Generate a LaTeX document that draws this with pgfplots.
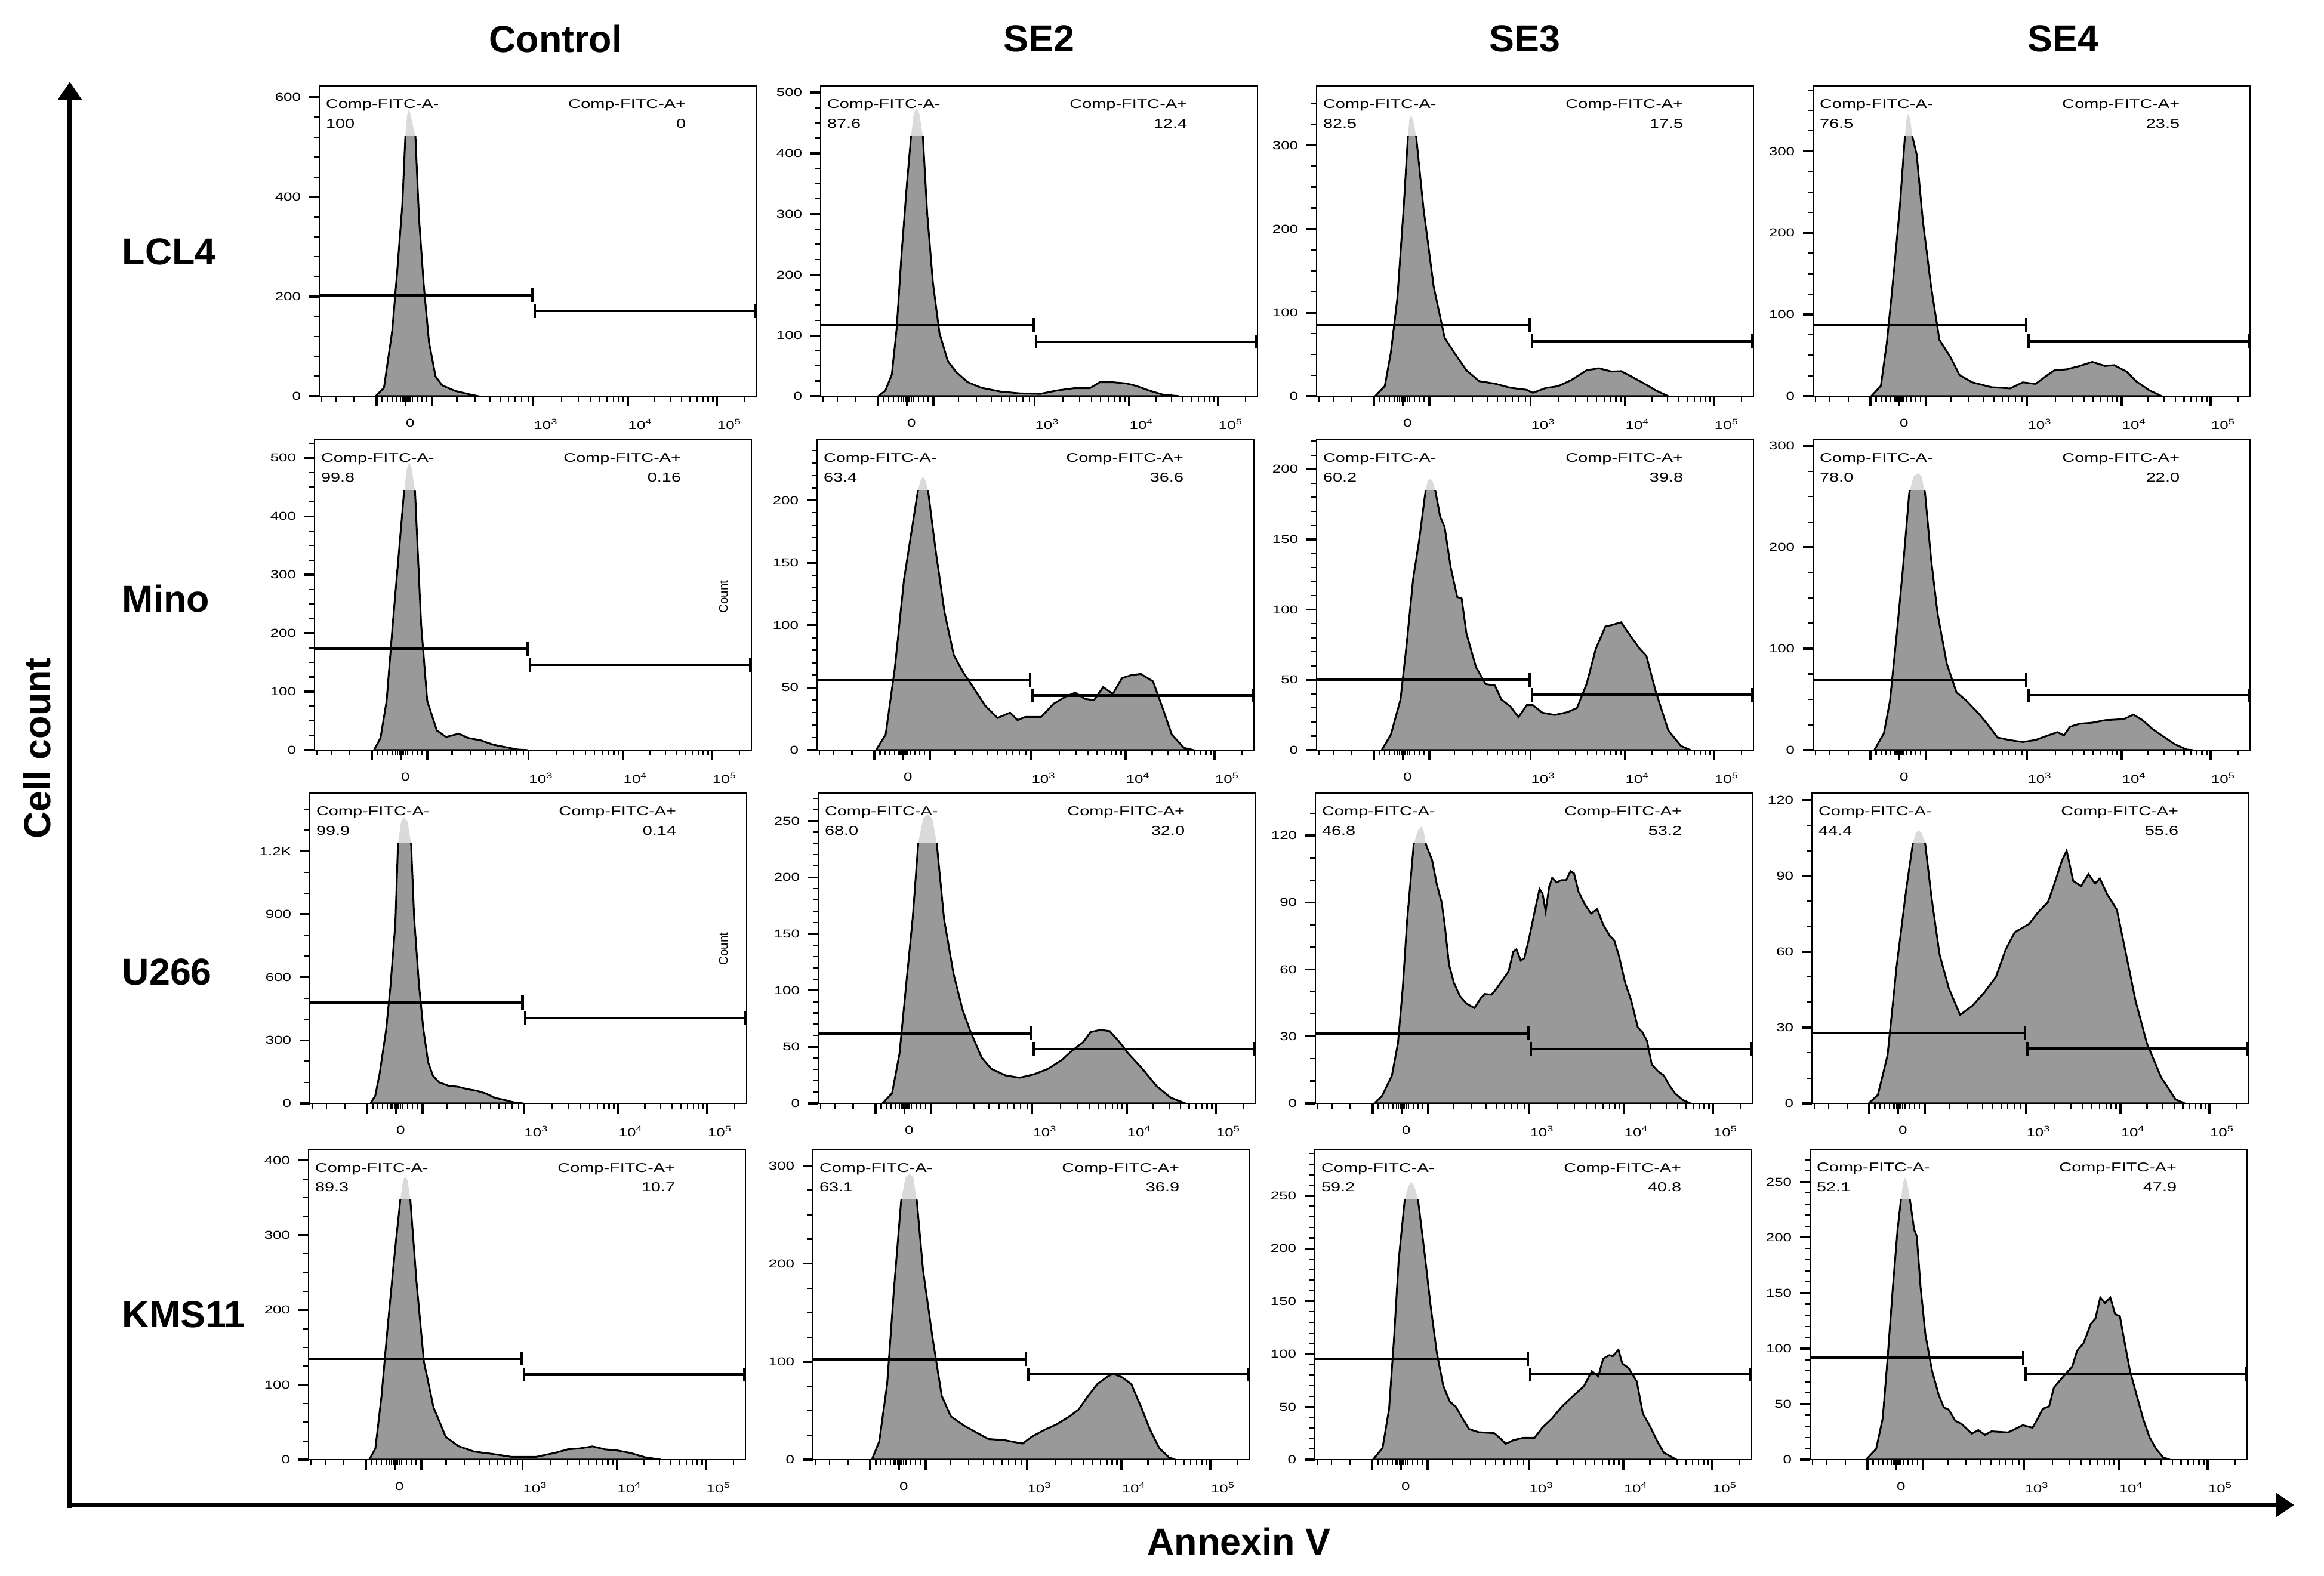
\documentclass[border=0pt]{standalone}
\usepackage{pgfplots}
\pgfplotsset{compat=1.18}
\usepackage{pgfplotstable}
\usepackage{fontspec}
\setmainfont{Liberation Sans}
\newfontfamily\widesans[FakeStretch=1.35]{Liberation Sans}
\usetikzlibrary{arrows.meta}

\definecolor{histgray}{RGB}{153,153,153}
\definecolor{tipgray}{RGB}{218,218,218}

\newcommand{\tickfont}{\widesans\fontsize{4.8pt}{5.2pt}\selectfont}
\newcommand{\gatefont}{\widesans\fontsize{5.35pt}{6pt}\selectfont}
\newcommand{\bigfont}{\bfseries\fontsize{15.7pt}{18pt}\selectfont}

% Histograms: x = position across the biexponential Annexin V scale (percent of axis width), y = count
% Row 1: LCL4
\pgfplotstableread[row sep=\\]{x y\\ 12.9 0\\ 14.8 17\\ 16.7 132\\ 17.8 247\\ 19.0 384\\ 19.7 522\\ 20.1 565\\ 20.5 577\\ 20.9 565\\ 22.0 522\\ 22.8 361\\ 23.9 224\\ 25.1 109\\ 26.6 40\\ 28.1 22\\ 31.1 10.5\\ 34.2 4\\ 36.4 0\\}\tAa
\pgfplotstableread[row sep=\\]{x y\\ 13.2 0\\ 14.8 9\\ 16.3 36\\ 17.4 111\\ 18.5 232\\ 19.7 345\\ 20.7 428\\ 21.3 465\\ 21.9 474\\ 22.6 465\\ 23.4 428\\ 24.4 300\\ 25.7 187\\ 27.2 104\\ 29.1 58\\ 31.0 40\\ 33.7 23\\ 36.7 14\\ 41.2 7.5\\ 45.8 4.5\\ 50.3 3.8\\ 54.1 9.4\\ 57.9 13\\ 61.6 13\\ 63.9 23\\ 66.9 23\\ 70.0 21\\ 72.2 17\\ 75.3 9\\ 78.3 2.6\\ 82.1 0\\}\tAb
\pgfplotstableread[row sep=\\]{x y\\ 13.4 0\\ 15.6 12\\ 17.0 52\\ 18.5 118\\ 19.9 223\\ 20.9 310\\ 21.2 330\\ 21.6 336\\ 22.1 330\\ 22.8 310\\ 24.5 223\\ 26.8 131\\ 29.3 70\\ 31.5 52\\ 34.3 31\\ 37.2 18\\ 40.8 15\\ 44.4 10\\ 48.1 7.6\\ 49.5 4\\ 52.4 9.7\\ 55.3 12\\ 58.2 19\\ 61.8 31\\ 64.6 33.4\\ 67.5 29.5\\ 69.7 30\\ 71.9 24\\ 74.7 16\\ 77.6 7\\ 80.5 0\\}\tAc
\pgfplotstableread[row sep=\\]{x y\\ 13.3 0\\ 15.5 12.7\\ 16.9 67\\ 18.4 148\\ 19.8 229\\ 21.0 318\\ 21.4 340\\ 21.7 346\\ 22.2 340\\ 22.7 318\\ 23.7 296\\ 25.1 215\\ 27.0 134\\ 28.9 69\\ 31.4 48\\ 33.5 26\\ 36.4 17\\ 40.8 11\\ 45.1 9.5\\ 48.0 17\\ 50.9 15\\ 53.0 23.5\\ 55.2 31.6\\ 58.1 33\\ 61.0 37\\ 63.9 42\\ 66.8 37\\ 68.9 38\\ 71.8 30\\ 74.0 18\\ 76.9 7.3\\ 79.8 0\\}\tAd
% Row 2: Mino
\pgfplotstableread[row sep=\\]{x y\\ 13.6 0\\ 15.1 20.6\\ 16.5 84\\ 17.9 215\\ 19.4 346\\ 20.5 443\\ 21.1 480\\ 21.7 492\\ 22.3 480\\ 23.0 443\\ 24.4 215\\ 25.8 84\\ 28.0 33.6\\ 30.1 22.4\\ 33.0 28\\ 35.2 20.6\\ 38.0 16.8\\ 40.9 9.3\\ 43.8 4.9\\ 46.6 1\\ 48.8 0\\}\tBa
\pgfplotstableread[row sep=\\]{x y\\ 13.5 0\\ 15.7 12.4\\ 17.8 65.6\\ 19.9 136.5\\ 21.8 179\\ 23.1 208\\ 23.7 216\\ 24.2 219\\ 24.8 216\\ 25.4 208\\ 27.1 161\\ 29.2 110\\ 31.3 76\\ 33.5 62\\ 35.6 51\\ 38.5 35.5\\ 41.3 25.7\\ 44.2 30\\ 45.9 24\\ 47.7 26.6\\ 51.3 26.6\\ 54.1 37\\ 57.0 43\\ 59.1 46\\ 61.3 41\\ 63.4 40\\ 65.5 50.5\\ 67.7 45\\ 69.8 57.6\\ 71.9 60\\ 74.1 61\\ 76.9 55\\ 79.1 33.7\\ 81.2 12.4\\ 84.0 1.8\\ 86.2 0\\}\tBb
\pgfplotstableread[row sep=\\]{x y\\ 14.9 0\\ 17.0 11\\ 19.2 36\\ 20.6 75\\ 22.1 122\\ 23.5 150\\ 25.0 186\\ 25.5 192\\ 26.0 193\\ 26.5 192\\ 27.1 186\\ 28.3 166\\ 29.3 159\\ 30.7 130\\ 32.2 109\\ 33.2 108\\ 34.3 83\\ 36.5 59\\ 38.7 47\\ 40.8 46\\ 42.3 36\\ 44.4 31\\ 46.2 23.4\\ 48.1 32\\ 49.5 32\\ 51.7 26.6\\ 54.5 25\\ 57.4 27\\ 59.6 30\\ 61.8 47\\ 63.9 72\\ 66.1 88\\ 67.5 89\\ 69.7 91\\ 71.9 81\\ 74.0 72\\ 75.5 67\\ 77.6 42\\ 80.5 14\\ 83.4 3\\ 85.6 0\\}\tBc
\pgfplotstableread[row sep=\\]{x y\\ 14.0 0\\ 16.2 16.7\\ 17.6 49\\ 19.1 113\\ 20.5 177\\ 22.0 254\\ 23.0 270\\ 24.0 273\\ 24.8 270\\ 25.6 254\\ 27.0 188\\ 28.5 134\\ 30.6 85\\ 32.8 57\\ 35.0 49\\ 37.9 36\\ 40.0 25\\ 42.2 12.4\\ 45.1 9.8\\ 48.0 8\\ 50.9 10\\ 53.8 14.5\\ 55.9 17.7\\ 57.4 14.5\\ 58.8 23\\ 61.0 26\\ 63.9 27\\ 66.8 29.5\\ 71.1 30.5\\ 73.3 35\\ 75.4 29.5\\ 77.6 21\\ 79.8 14.5\\ 82.7 6\\ 85.5 0.6\\ 87.0 0\\}\tBd
% Row 3: U266
\pgfplotstableread[row sep=\\]{x y\\ 13.9 0\\ 15.0 37\\ 16.0 142\\ 17.5 353\\ 18.5 563\\ 19.6 858\\ 20.2 1236\\ 20.9 1340\\ 21.6 1363\\ 22.4 1340\\ 23.2 1236\\ 23.9 879\\ 25.0 563\\ 26.0 353\\ 27.1 195\\ 28.2 132\\ 29.6 100\\ 31.7 84\\ 33.9 79\\ 36.0 68\\ 38.2 60\\ 40.3 47\\ 42.4 26\\ 44.6 16\\ 46.7 5\\ 48.9 0\\}\tCa
\pgfplotstableread[row sep=\\]{x y\\ 14.7 0\\ 16.9 9\\ 18.6 44\\ 20.1 104\\ 21.6 163\\ 22.9 231\\ 24.0 252\\ 25.1 256\\ 26.1 252\\ 27.1 231\\ 28.8 163\\ 31.0 114\\ 33.1 82\\ 34.8 64\\ 37.4 40.5\\ 39.6 30.6\\ 42.9 24.7\\ 46.1 22.7\\ 49.4 25.7\\ 52.6 30.6\\ 55.8 38.5\\ 58.0 46.4\\ 60.6 54\\ 62.3 63\\ 64.5 65\\ 66.7 64\\ 68.8 55\\ 71.0 44\\ 74.2 30.6\\ 77.5 15\\ 80.7 5\\ 84.0 0\\}\tCb
\pgfplotstableread[row sep=\\]{x y\\ 13.5 0\\ 15.3 3.5\\ 17.5 12.4\\ 18.9 27\\ 20.0 52\\ 21.0 82\\ 22.5 116\\ 23.4 122\\ 24.2 124\\ 24.8 122\\ 25.3 116\\ 26.7 109\\ 27.8 98\\ 28.9 90\\ 29.6 80\\ 30.6 62\\ 31.7 54\\ 33.1 48\\ 34.6 44.7\\ 36.4 42.7\\ 37.8 47\\ 38.8 49\\ 40.3 48.7\\ 41.3 51\\ 43.1 56\\ 44.2 59\\ 45.3 68\\ 46.0 69\\ 47.0 64\\ 47.8 65\\ 48.8 73\\ 50.2 86\\ 51.3 96\\ 52.0 94\\ 52.7 86\\ 53.5 97\\ 54.2 101\\ 55.2 99\\ 56.3 100\\ 57.4 100\\ 58.4 104\\ 59.2 103\\ 60.2 95\\ 61.7 89\\ 63.1 85\\ 64.5 87\\ 65.9 80\\ 67.4 75\\ 68.4 73\\ 69.5 66\\ 70.9 54\\ 72.3 46\\ 73.8 34\\ 74.8 32\\ 75.9 28\\ 77.0 17.4\\ 78.4 14.4\\ 79.8 12.4\\ 80.9 8.4\\ 82.3 4.5\\ 84.1 1.5\\ 85.9 0\\}\tCc
\pgfplotstableread[row sep=\\]{x y\\ 13.0 0\\ 15.1 3.4\\ 17.3 19\\ 19.4 54.5\\ 21.6 85\\ 23.1 103\\ 23.8 107\\ 24.4 108\\ 25.1 107\\ 25.9 103\\ 27.4 81\\ 29.2 59\\ 31.3 45.7\\ 33.9 35\\ 36.7 38.6\\ 39.5 44\\ 42.1 50\\ 44.3 60.7\\ 46.4 67.7\\ 49.7 71\\ 51.8 75.7\\ 54.0 79.6\\ 55.5 87\\ 57.2 96\\ 58.3 100\\ 59.8 88\\ 61.6 86\\ 63.3 90.7\\ 64.8 87\\ 65.9 89\\ 67.6 82.7\\ 69.8 76.6\\ 71.9 59\\ 74.1 40.4\\ 76.7 23.6\\ 79.9 10.4\\ 83.2 1.6\\ 85.3 0\\}\tCd
% Row 4: KMS11
\pgfplotstableread[row sep=\\]{x y\\ 13.9 0\\ 15.3 15\\ 16.7 85\\ 18.1 177\\ 19.6 269\\ 21.0 347\\ 21.6 372\\ 22.1 379\\ 22.7 372\\ 23.3 347\\ 24.7 238\\ 26.4 131\\ 28.6 70\\ 31.4 30.5\\ 34.3 18\\ 37.9 10.7\\ 42.1 7.6\\ 46.4 3.7\\ 52.1 3.7\\ 56.4 9\\ 59.3 13.7\\ 62.1 15\\ 65.0 17.7\\ 67.9 13.7\\ 70.7 12.2\\ 73.6 9\\ 77.1 3\\ 80.7 0\\}\tDa
\pgfplotstableread[row sep=\\]{x y\\ 13.5 0\\ 15.2 18.7\\ 17.0 77\\ 18.5 170.5\\ 20.2 264\\ 21.2 288\\ 22.1 292\\ 23.0 288\\ 23.8 264\\ 25.2 194\\ 27.4 124\\ 29.5 65\\ 31.6 44\\ 34.5 35\\ 37.3 28\\ 40.2 21\\ 43.7 20\\ 48.0 16.4\\ 50.1 23.4\\ 53.0 30.4\\ 55.8 36\\ 58.7 44\\ 60.8 51\\ 63.0 65\\ 65.1 77\\ 67.2 84\\ 68.7 87.6\\ 70.8 84\\ 72.9 77\\ 75.1 54\\ 77.2 30.4\\ 79.3 11.7\\ 81.5 2.3\\ 82.9 0\\}\tDb
\pgfplotstableread[row sep=\\]{x y\\ 13.3 0\\ 15.5 11\\ 17.0 48\\ 18.1 113\\ 19.2 189\\ 20.6 247\\ 21.4 259\\ 22.1 263\\ 22.8 259\\ 23.6 247\\ 25.0 200\\ 26.5 146\\ 27.9 102\\ 29.4 70\\ 30.9 55\\ 32.3 50\\ 33.8 39\\ 35.3 29\\ 37.5 26\\ 41.1 25\\ 42.6 19.6\\ 43.7 15\\ 45.5 18.5\\ 47.7 20.7\\ 50.3 20.7\\ 52.1 30.4\\ 54.3 39\\ 56.5 50\\ 58.7 58.7\\ 61.6 69.6\\ 63.4 83.7\\ 64.9 79\\ 66.0 95.6\\ 67.4 99\\ 68.2 98\\ 69.5 104\\ 70.4 91\\ 71.8 87\\ 73.7 74\\ 75.1 43.5\\ 76.6 32.6\\ 78.4 17.4\\ 79.9 6.5\\ 82.8 0\\}\tDc
\pgfplotstableread[row sep=\\]{x y\\ 12.8 0\\ 15.1 9.6\\ 16.6 37\\ 17.7 90\\ 18.9 154\\ 20.0 207\\ 20.8 235\\ 21.3 250\\ 21.7 254\\ 22.2 250\\ 22.8 235\\ 23.8 207\\ 24.4 201\\ 25.3 154\\ 26.4 112\\ 27.9 80\\ 29.4 58.5\\ 30.6 47\\ 31.7 45\\ 33.2 35\\ 34.7 32\\ 37.0 23.4\\ 38.5 26.6\\ 40.0 22.3\\ 41.5 25.5\\ 45.3 24.5\\ 47.5 28.7\\ 48.7 31\\ 50.9 28.7\\ 52.1 37\\ 53.2 45.7\\ 54.7 48\\ 55.8 65\\ 58.1 75.5\\ 60.0 84\\ 61.1 98\\ 62.6 105\\ 64.2 122\\ 65.3 127\\ 66.4 146\\ 67.5 141\\ 68.7 146\\ 69.8 131\\ 70.9 129\\ 72.1 103\\ 73.2 80\\ 74.7 58.5\\ 76.2 37\\ 77.7 20\\ 79.2 9.6\\ 80.8 2\\ 82.3 0\\}\tDd

\pgfplotsset{
  panel/.style={
    scale only axis, width=183pt, height=130pt,
    anchor=south west,
    xmin=0, xmax=100, ymin=0,
    axis line style={line width=0.55pt},
    tick align=outside, xtick pos=bottom, ytick pos=left,
    major tick length=4.2pt, minor tick length=2.2pt,
    every major tick/.append style={line width=0.85pt, black},
    every minor tick/.append style={line width=0.55pt, black},
    xtick={13.1,19.7,25.8,49,70.6,91},
    xticklabels={,0,,10\textsuperscript{3},10\textsuperscript{4},10\textsuperscript{5}},
    minor xtick={0.5,3.8,8.0,14.4,15.6,16.7,17.8,18.6,19.0,19.4,20.0,20.4,20.8,21.3,22.4,23.5,24.6,31.5,35.7,39.1,41.4,43.3,44.8,46.3,47.8,55.5,59.3,62.0,64.1,65.8,67.3,68.5,69.6,76.7,80.3,82.9,84.9,86.5,87.8,89.0,90.1,97.3},
    xticklabel style={font=\tickfont, anchor=north west, inner xsep=0pt, yshift=-1.8pt},
    yticklabel style={font=\tickfont},
    clip mode=global,
  },
  gate/.style={black, line width=1.05pt},
}

% filled histogram; the darker body stops at 83.7% of the axis height
\newcommand{\histo}[1]{%
  \addplot[fill=tipgray, draw=none] table {#1} \closedcycle;
  \begin{scope}
    \clip (rel axis cs:0,0) rectangle (rel axis cs:1,0.837);
    \addplot[fill=histgray, draw=black, line width=0.75pt] table {#1} \closedcycle;
  \end{scope}}
% negative / positive gates split at 10^3
\newcommand{\gates}[2]{%
  \addplot[gate, -{Bar[width=5.8pt]}] coordinates {(0,#1) (49,#1)};
  \addplot[gate, {Bar[width=5.8pt]}-{Bar[width=5.8pt]}] coordinates {(49,#2) (100,#2)};}
\newcommand{\fractions}[2]{%
  \node[anchor=west, inner sep=0pt, font=\gatefont] at (rel axis cs:0.014,0.937) {Comp-FITC-A-};
  \node[anchor=west, inner sep=0pt, font=\gatefont] at (rel axis cs:0.014,0.879) {#1};
  \node[anchor=east, inner sep=0pt, font=\gatefont] at (rel axis cs:0.84,0.937) {Comp-FITC-A+};
  \node[anchor=east, inner sep=0pt, font=\gatefont] at (rel axis cs:0.84,0.879) {#2};}

\begin{document}
\begin{tikzpicture}
\useasboundingbox (0,0) rectangle (973.5pt,660.25pt);

% ---------- row 1: LCL4 ----------
\begin{axis}[panel, at={(133.75pt,494.25pt)}, ymax=623,
  ytick={0,200,400,600}, yticklabels={0,200,400,600}, minor ytick={0,40,...,600}]
  \histo{\tAa}\gates{203}{171}\fractions{100}{0}
\end{axis}
\begin{axis}[panel, at={(343.75pt,494.25pt)}, ymax=511,
  ytick={0,100,...,500}, yticklabels={0,100,200,300,400,500}, minor ytick={0,25,...,500}]
  \histo{\tAb}\gates{117}{89.6}\fractions{87.6}{12.4}
\end{axis}
\begin{axis}[panel, at={(551.5pt,494.25pt)}, ymax=371,
  ytick={0,100,200,300}, yticklabels={0,100,200,300}, minor ytick={0,25,...,350}]
  \histo{\tAc}\gates{85}{66}\fractions{82.5}{17.5}
\end{axis}
\begin{axis}[panel, at={(759.5pt,494.25pt)}, ymax=380,
  ytick={0,100,200,300}, yticklabels={0,100,200,300}, minor ytick={0,25,...,375}]
  \histo{\tAd}\gates{87}{67.4}\fractions{76.5}{23.5}
\end{axis}

% ---------- row 2: Mino ----------
\begin{axis}[panel, at={(131.75pt,346pt)}, ymax=531,
  ytick={0,100,...,500}, yticklabels={0,100,200,300,400,500}, minor ytick={0,25,...,525}]
  \histo{\tBa}\gates{173}{146}\fractions{99.8}{0.16}
\end{axis}
\begin{axis}[panel, at={(342.25pt,346pt)}, ymax=248.5,
  ytick={0,50,...,200}, yticklabels={0,50,100,150,200}, minor ytick={0,10,...,240}]
  \histo{\tBb}\gates{56}{43.7}\fractions{63.4}{36.6}
\end{axis}
\begin{axis}[panel, at={(551.5pt,346pt)}, ymax=221,
  ytick={0,50,...,200}, yticklabels={0,50,100,150,200}, minor ytick={0,10,...,220}]
  \histo{\tBc}\gates{50}{39.4}\fractions{60.2}{39.8}
\end{axis}
\begin{axis}[panel, at={(759.5pt,346pt)}, ymax=306,
  ytick={0,100,200,300}, yticklabels={0,100,200,300}, minor ytick={0,25,...,300}]
  \histo{\tBd}\gates{69}{54}\fractions{78.0}{22.0}
\end{axis}

% ---------- row 3: U266 ----------
\begin{axis}[panel, at={(129.75pt,198pt)}, ymax=1477,
  ytick={0,300,...,1200}, yticklabels={0,300,600,900,1.2K}, minor ytick={0,100,...,1400}]
  \histo{\tCa}\gates{480}{406}\fractions{99.9}{0.14}
\end{axis}
\begin{axis}[panel, at={(342.75pt,198pt)}, ymax=274.6,
  ytick={0,50,...,250}, yticklabels={0,50,100,150,200,250}, minor ytick={0,10,...,270}]
  \histo{\tCb}\gates{62}{48}\fractions{68.0}{32.0}
\end{axis}
\begin{axis}[panel, at={(551pt,198pt)}, ymax=139,
  ytick={0,30,...,120}, yticklabels={0,30,60,90,120}, minor ytick={0,10,...,130}]
  \histo{\tCc}\gates{31.4}{24.3}\fractions{46.8}{53.2}
\end{axis}
\begin{axis}[panel, at={(759pt,198pt)}, ymax=122.8,
  ytick={0,30,...,120}, yticklabels={0,30,60,90,120}, minor ytick={0,10,...,120}]
  \histo{\tCd}\gates{27.9}{21.6}\fractions{44.4}{55.6}
\end{axis}

% ---------- row 4: KMS11 ----------
\begin{axis}[panel, at={(129.25pt,48.75pt)}, ymax=414.7,
  ytick={0,100,...,400}, yticklabels={0,100,200,300,400}, minor ytick={0,25,...,400}]
  \histo{\tDa}\gates{135}{113.7}\fractions{89.3}{10.7}
\end{axis}
\begin{axis}[panel, at={(340.5pt,48.75pt)}, ymax=316.7,
  ytick={0,100,200,300}, yticklabels={0,100,200,300}, minor ytick={0,25,...,300}]
  \histo{\tDb}\gates{102.4}{86.9}\fractions{63.1}{36.9}
\end{axis}
\begin{axis}[panel, at={(550.75pt,48.75pt)}, ymax=294,
  ytick={0,50,...,250}, yticklabels={0,50,100,150,200,250}, minor ytick={0,10,...,290}]
  \histo{\tDc}\gates{95.5}{80.7}\fractions{59.2}{40.8}
\end{axis}
\begin{axis}[panel, at={(758.25pt,48.75pt)}, ymax=279.4,
  ytick={0,50,...,250}, yticklabels={0,50,100,150,200,250}, minor ytick={0,10,...,270}]
  \histo{\tDd}\gates{91.8}{77}\fractions{52.1}{47.9}
\end{axis}

% stray axis titles from the neighbouring panels
\node[rotate=90, font=\fontsize{5.1pt}{6pt}\selectfont] at (303pt,410.25pt) {Count};
\node[rotate=90, font=\fontsize{5.1pt}{6pt}\selectfont] at (303pt,262.75pt) {Count};

% column and row headings
\node[font=\bigfont] at (232.75pt,644pt) {Control};
\node[font=\bigfont] at (435.25pt,644pt) {SE2};
\node[font=\bigfont] at (638.75pt,644pt) {SE3};
\node[font=\bigfont] at (864.25pt,644pt) {SE4};
\node[font=\bigfont, anchor=west, inner sep=0pt] at (51pt,554.75pt) {LCL4};
\node[font=\bigfont, anchor=west, inner sep=0pt] at (51pt,409.5pt) {Mino};
\node[font=\bigfont, anchor=west, inner sep=0pt] at (51pt,253pt) {U266};
\node[font=\bigfont, anchor=west, inner sep=0pt] at (51pt,109.5pt) {KMS11};

% overall axes
\draw[line width=2.2pt, -{Triangle[width=9.5pt,length=7.5pt]}] (29.25pt,28.5pt) -- (29.25pt,626pt);
\draw[line width=2.2pt, -{Triangle[width=9.5pt,length=7.5pt]}] (28pt,29.75pt) -- (961pt,29.75pt);
\node[font=\bigfont, rotate=90] at (15.5pt,346.75pt) {Cell count};
\node[font=\bigfont] at (519pt,14.5pt) {Annexin V};
\end{tikzpicture}
\end{document}
